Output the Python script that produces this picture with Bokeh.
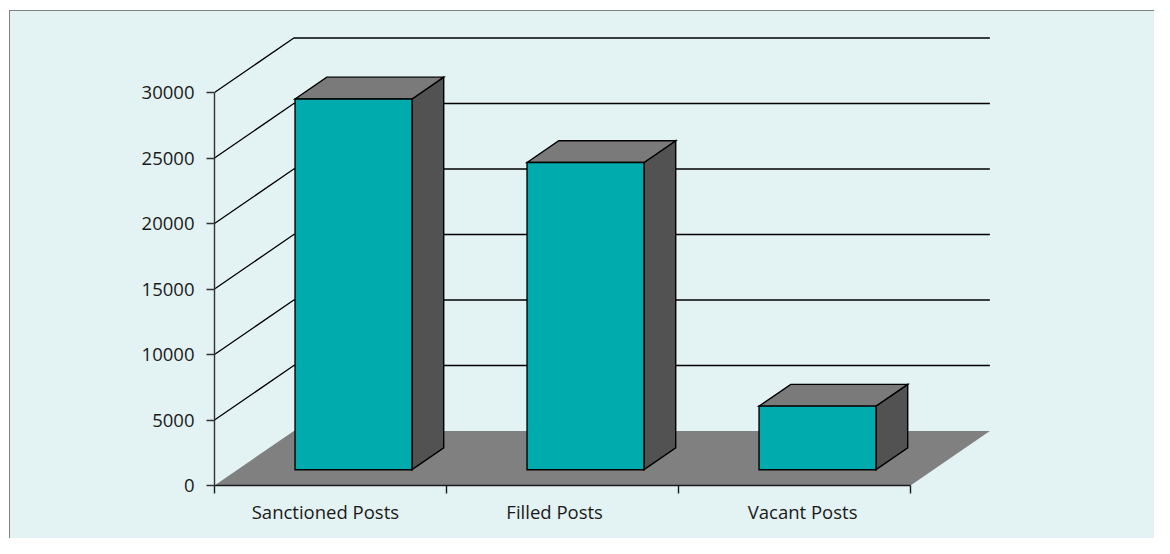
from bokeh.plotting import figure
from bokeh.models import FixedTicker, Range1d
from bokeh.embed import file_html
from bokeh.resources import INLINE

categories = ["Sanctioned Posts", "Filled Posts", "Vacant Posts"]
values = [28300, 23450, 4850]
y_ticks = [0, 5000, 10000, 15000, 20000, 25000, 30000]
x_ticks = [0, 1, 2, 3]
label_positions = [0.478, 1.466, 2.535]

PANEL = "#E3F2F2"
BORDER = "#808080"
FLOOR = "#808080"
FRONT = "#00ABAE"
TOP = "#7A7A7A"
SIDE = "#525252"
INK = "#1A1A1A"
FONT = "Open Sans"

DEPTH_X = 0.342
DEPTH_Y = 4160
BAR_WIDTH = 0.504
BAR_NEAR = 0.29
BAR_FAR = 0.69

p = figure(
    width=1154, height=538,
    output_backend="svg", toolbar_location=None,
    x_range=Range1d(0, 786 / 232), y_range=Range1d(0, 455 / 0.0131),
    min_border_left=214, min_border_right=154, min_border_top=30, min_border_bottom=53,
    background_fill_color=None, border_fill_color=None, outline_line_color=None,
)
p.grid.visible = False

# tinted panel behind a transparent canvas, with a white strip and thin grey edge top and left
p.styles = {
    "background-color": PANEL,
    "box-shadow": f"inset 9px 10px 0 0 #FFFFFF, inset 10px 11px 0 0 {BORDER}",
}

p.patch([x_ticks[0], x_ticks[-1], x_ticks[-1] + DEPTH_X, x_ticks[0] + DEPTH_X],
        [0, 0, DEPTH_Y, DEPTH_Y], fill_color=FLOOR, line_color=None)

gx, gy = [], []
for v in y_ticks[1:]:
    gx.append([x_ticks[0], x_ticks[0] + DEPTH_X, x_ticks[-1] + DEPTH_X])
    gy.append([v, v + DEPTH_Y, v + DEPTH_Y])
p.multi_line(gx, gy, line_color="#000000", line_width=1.3)

for i, v in enumerate(values):
    x0 = i + 0.5 - BAR_WIDTH / 2 + BAR_NEAR * DEPTH_X
    x1 = x0 + BAR_WIDTH
    y0 = BAR_NEAR * DEPTH_Y
    y1 = y0 + v
    dx = (BAR_FAR - BAR_NEAR) * DEPTH_X
    dy = (BAR_FAR - BAR_NEAR) * DEPTH_Y
    style = dict(line_color="#000000", line_width=1.4, line_join="miter")
    p.patch([x1, x1 + dx, x1 + dx, x1], [y0, y0 + dy, y1 + dy, y1], fill_color=SIDE, **style)
    p.patch([x0, x1, x1 + dx, x0 + dx], [y1, y1, y1 + dy, y1 + dy], fill_color=TOP, **style)
    p.patch([x0, x1, x1, x0], [y0, y0, y1, y1], fill_color=FRONT, **style)

ax = p.yaxis[0]
ax.ticker = FixedTicker(ticks=y_ticks)
ax.bounds = (y_ticks[0], y_ticks[-1])
ax.formatter.use_scientific = False
ax.major_tick_in = 0
ax.major_tick_out = 8
ax.minor_tick_in = 0
ax.minor_tick_out = 0
ax.axis_line_color = "#333333"
ax.major_tick_line_color = "#333333"
ax.axis_line_width = 1.4
ax.major_tick_line_width = 1.4
ax.major_label_text_font = FONT
ax.major_label_text_font_size = "18.5px"
ax.major_label_text_color = INK
ax.major_label_standoff = 12

bx = p.xaxis[0]
bx.ticker = FixedTicker(ticks=label_positions, minor_ticks=x_ticks)
bx.bounds = (x_ticks[0], x_ticks[-1])
bx.major_label_overrides = dict(zip(label_positions, categories))
bx.major_tick_in = 0
bx.major_tick_out = 0
bx.minor_tick_in = 0
bx.minor_tick_out = 8
bx.axis_line_color = "#1A1A1A"
bx.minor_tick_line_color = "#1A1A1A"
bx.axis_line_width = 1.4
bx.minor_tick_line_width = 1.4
bx.major_label_text_font = FONT
bx.major_label_text_font_size = "18.5px"
bx.major_label_text_color = INK
bx.major_label_standoff = 5

open("out.html", "w").write(file_html(p, INLINE))
